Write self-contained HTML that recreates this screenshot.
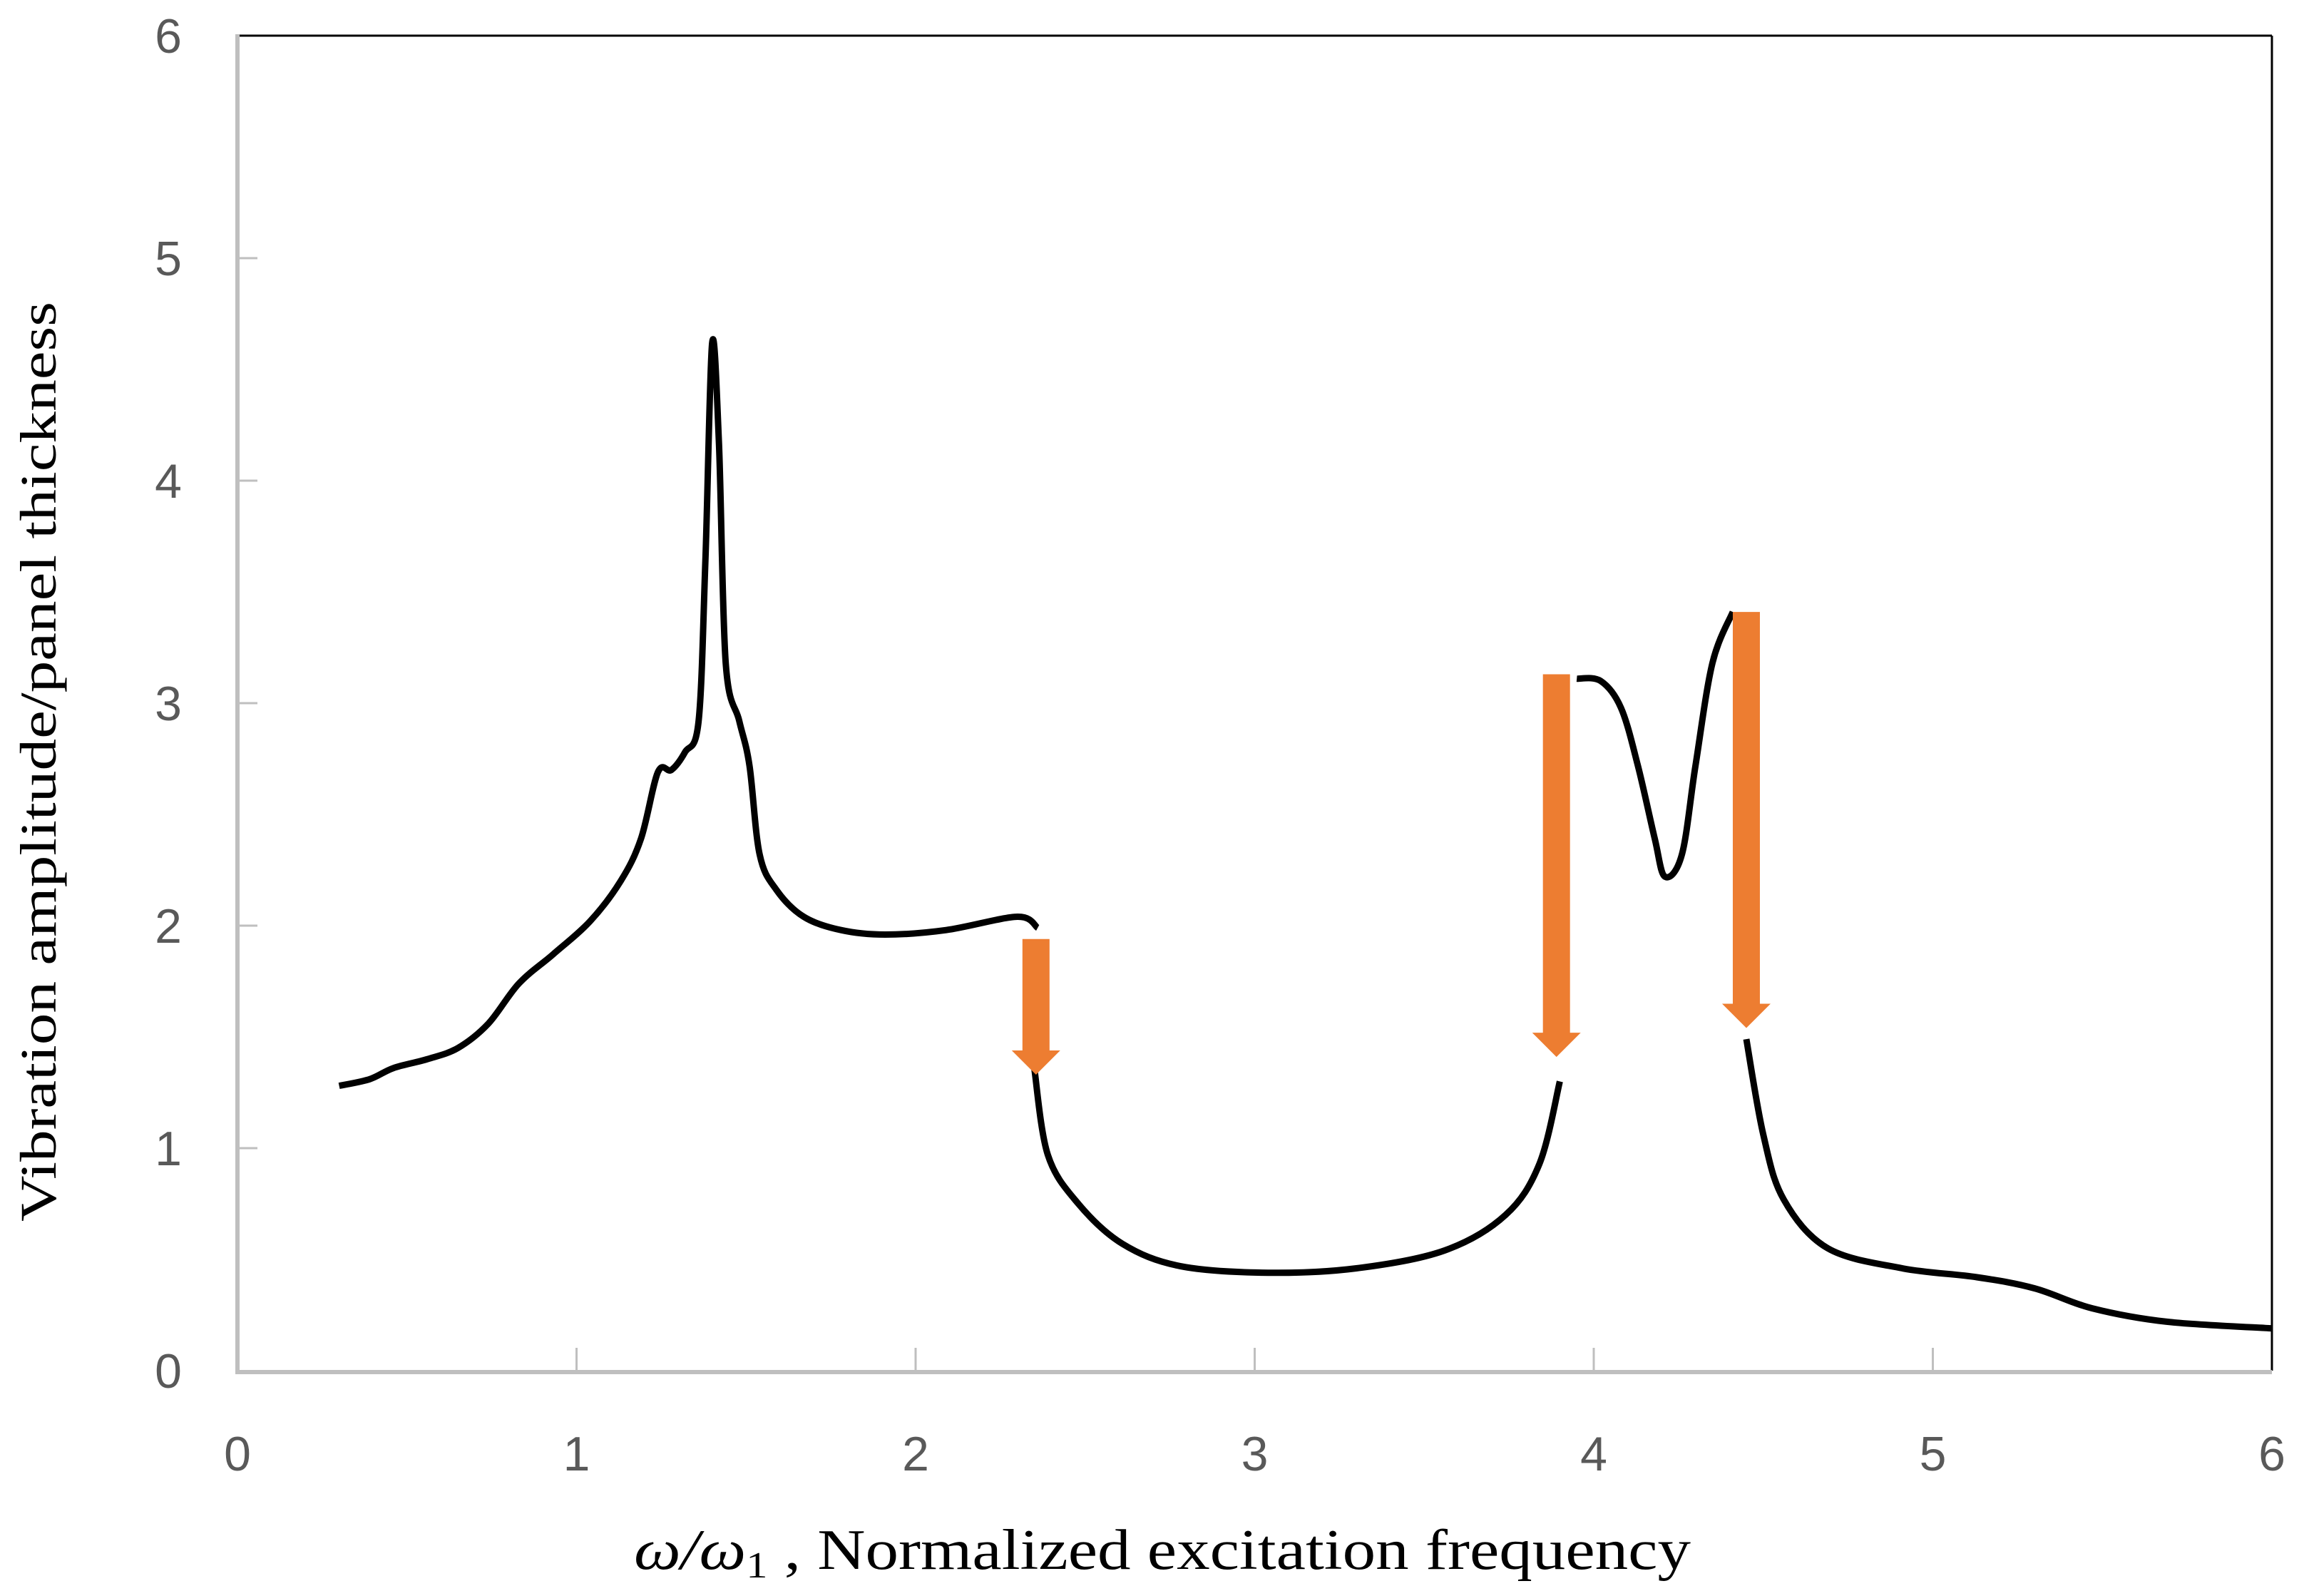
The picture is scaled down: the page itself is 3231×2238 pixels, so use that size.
<!DOCTYPE html>
<html><head><meta charset="utf-8"><style>
html,body{margin:0;padding:0;background:#fff;}
svg{display:block;}
</style></head><body>
<svg id="chart" width="3231" height="2238" viewBox="0 0 3231 2238" xmlns="http://www.w3.org/2000/svg">
<rect x="0" y="0" width="3231" height="2238" fill="#fff"/>
<g id="frame"></g>
<g id="ticks"></g>
<g id="curve"></g>
<g id="arrows"></g>
<text x="889" y="2200" font-family="'Liberation Serif', serif" font-size="80" fill="#000" textLength="1482" lengthAdjust="spacingAndGlyphs"><tspan font-style="italic">ω/ω</tspan><tspan font-size="52" dy="12">1</tspan><tspan dy="-12"> ,  Normalized  excitation  frequency</tspan></text>
<text transform="translate(78,1068) rotate(-90)" text-anchor="middle" font-family="'Liberation Serif', serif" font-size="72" fill="#000" textLength="1290" lengthAdjust="spacingAndGlyphs">Vibration  amplitude/panel  thickness</text>
</svg>
<script>
const xTicks = [0,1,2,3,4,5,6];
const yTicks = [0,1,2,3,4,5,6];
const seg1X = [0.30,0.39,0.46,0.56,0.65,0.74,0.83,0.93,1.04,1.13,1.19,1.24,1.28,1.32,1.36,1.38,1.40,1.42,1.44,1.48,1.51,1.54,1.59,1.67,1.78,1.91,2.09,2.30,2.36];
const seg1Y = [1.28,1.31,1.36,1.40,1.45,1.56,1.74,1.87,2.02,2.20,2.39,2.69,2.70,2.78,2.92,3.64,4.62,4.17,3.18,2.92,2.72,2.32,2.16,2.04,1.98,1.96,1.98,2.04,1.99];
const seg2X = [2.35,2.39,2.48,2.61,2.78,3.04,3.30,3.56,3.74,3.84,3.90];
const seg2Y = [1.36,0.97,0.75,0.57,0.47,0.44,0.46,0.54,0.70,0.93,1.30];
const seg3X = [3.95,4.02,4.08,4.13,4.18,4.21,4.26,4.30,4.35,4.41];
const seg3Y = [3.11,3.10,2.98,2.72,2.39,2.22,2.32,2.72,3.18,3.41];
const seg4X = [4.45,4.50,4.56,4.69,4.91,5.13,5.30,5.47,5.69,6.00];
const seg4Y = [1.49,1.06,0.77,0.55,0.46,0.42,0.37,0.28,0.22,0.19];
const arrowX = [2.355,3.89,4.45];
const arrowTop = [1.94,3.13,3.41];
const arrowTip = [1.33,1.41,1.54];

const X0=333, X1=3186, Y0=1922, Y1=50;
const sx = v => X0 + (v-0)/(6-0)*(X1-X0);
const sy = v => Y0 - (v-0)/(6-0)*(Y0-Y1);
const NS='http://www.w3.org/2000/svg';
function mk(tag, attrs, parent){const e=document.createElementNS(NS,tag);for(const k in attrs)e.setAttribute(k,attrs[k]);parent.appendChild(e);return e;}

const frame=document.getElementById('frame');
let e;
e=mk('line',{x1:X0,y1:Y1,x2:X1,y2:Y1,stroke:'#000','stroke-width':3},frame);


e=mk('line',{x1:X1,y1:Y1,x2:X1,y2:Y0,stroke:'#000','stroke-width':3},frame);


e=mk('line',{x1:X0,y1:Y1-2,x2:X0,y2:Y0+5,stroke:'#bfbfbf','stroke-width':6},frame);


e=mk('line',{x1:X0-3,y1:Y0+2,x2:X1,y2:Y0+2,stroke:'#bfbfbf','stroke-width':6},frame);



const ticks=document.getElementById('ticks');
yTicks.forEach(v=>{
  if(v>0&&v<6){
    const t=mk('line',{x1:X0,y1:sy(v),x2:X0+28,y2:sy(v),stroke:'#bfbfbf','stroke-width':3},ticks);
    
    
  }
  const l=mk('text',{x:255,y:sy(v)+24,'text-anchor':'end','font-family':"'Liberation Sans', sans-serif",'font-size':68,fill:'#595959'},ticks);
  l.textContent=v;
  
  
});
xTicks.forEach(v=>{
  if(v>0&&v<6){
    const t=mk('line',{x1:sx(v),y1:Y0,x2:sx(v),y2:Y0-32,stroke:'#bfbfbf','stroke-width':3},ticks);
    
    
  }
  const l=mk('text',{x:sx(v),y:2062,'text-anchor':'middle','font-family':"'Liberation Sans', sans-serif",'font-size':68,fill:'#595959'},ticks);
  l.textContent=v;
  
  
});

const curve=document.getElementById('curve');
function drawSeg(xs,ys,name){
  const P=xs.map((x,i)=>[sx(x),sy(ys[i])]);
  let d='M'+P[0][0].toFixed(1)+','+P[0][1].toFixed(1);
  for(let i=0;i<P.length-1;i++){
    const p0=P[Math.max(0,i-1)],p1=P[i],p2=P[i+1],p3=P[Math.min(P.length-1,i+2)];
    const t=1/6;
    const c1=[p1[0]+(p2[0]-p0[0])*t,p1[1]+(p2[1]-p0[1])*t];
    const c2=[p2[0]-(p3[0]-p1[0])*t,p2[1]-(p3[1]-p1[1])*t];
    d+='C'+c1[0].toFixed(1)+','+c1[1].toFixed(1)+' '+c2[0].toFixed(1)+','+c2[1].toFixed(1)+' '+p2[0].toFixed(1)+','+p2[1].toFixed(1);
  }
  const p=mk('path',{d:d,fill:'none',stroke:'#000','stroke-width':9,'stroke-linejoin':'round','stroke-linecap':'butt'},curve);
  
  
}
drawSeg(seg1X,seg1Y,'curve-segment-1');
drawSeg(seg2X,seg2Y,'curve-segment-2');
drawSeg(seg3X,seg3Y,'curve-segment-3');
drawSeg(seg4X,seg4Y,'curve-segment-4');

const arrows=document.getElementById('arrows');
arrowX.forEach((x,i)=>{
  const cx=sx(x), top=sy(arrowTop[i]), tip=sy(arrowTip[i]);
  const hw=19, hh=34, headW=34;
  const pts=[[cx-hw,top],[cx+hw,top],[cx+hw,tip-hh],[cx+headW,tip-hh],[cx,tip],[cx-headW,tip-hh],[cx-hw,tip-hh]].map(p=>p.join(',')).join(' ');
  const a=mk('polygon',{points:pts,fill:'#ed7d31'},arrows);
  
  
});
</script>
</body></html>
